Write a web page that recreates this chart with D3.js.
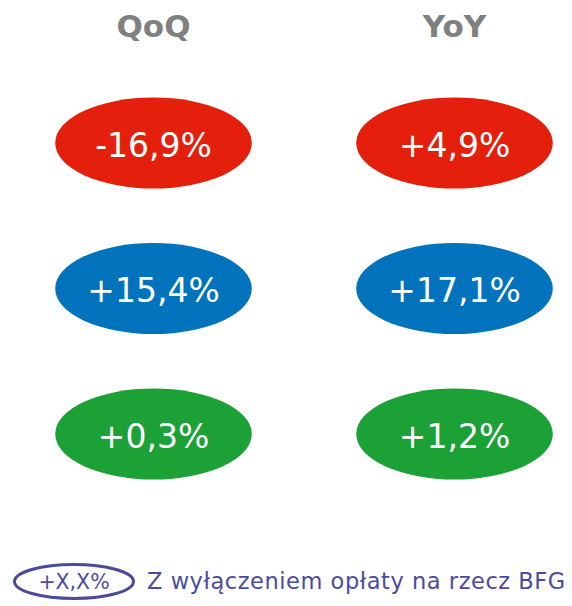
<!DOCTYPE html>
<html>
<head>
<meta charset="utf-8">
<script src="https://cdn.jsdelivr.net/npm/d3@7"></script>
<style>
  html, body { margin: 0; padding: 0; background: #fff; }
  svg { display: block; }
  text { font-family: "DejaVu Sans", Verdana, sans-serif; }
</style>
</head>
<body>
<svg id="chart" width="572" height="606"></svg>
<script>
// ---- data ----
const periods = ["QoQ", "YoY"];
const rows = ["row1", "row2", "row3"];
const qoqValues = [-16.9, 15.4, 0.3];
const yoyValues = [4.9, 17.1, 1.2];
const rowColors = ["#e41f0c", "#0073bc", "#1ba135"];
const legendSample = "+X,X%";
const legendLabel = "Z wyłączeniem opłaty na rzecz BFG";

const svg = d3.select("#chart");

const x = d3.scalePoint().domain(periods).range([153.5, 454.5]);
const y = d3.scalePoint().domain(rows).range([143, 434]);
const color = d3.scaleOrdinal().domain(rows).range(rowColors);

const fmt = v => (v >= 0 ? "+" : "-") + d3.format(".1f")(Math.abs(v)).replace(".", ",") + "%";

const cells = [];
periods.forEach((p, pi) => {
  const vals = pi === 0 ? qoqValues : yoyValues;
  rows.forEach((r, ri) => cells.push({ period: p, row: r, value: vals[ri] }));
});

// headers
svg.selectAll("text.header")
  .data(periods)
  .join("text")
  .attr("class", "header")
  .attr("x", d => x(d))
  .attr("y", 37)
  .attr("text-anchor", "middle")
  .attr("font-size", 31)
  .attr("font-weight", "bold")
  .attr("fill", "#7f8080")
  .text(d => d);

// ellipses
const g = svg.selectAll("g.cell")
  .data(cells)
  .join("g")
  .attr("class", "cell")
  .attr("transform", d => `translate(${x(d.period)},${y(d.row)})`);

g.append("ellipse")
  .attr("rx", 98.3)
  .attr("ry", 45.5)
  .attr("fill", d => color(d.row));

g.append("text")
  .attr("y", 13.5)
  .attr("text-anchor", "middle")
  .attr("font-size", 33)
  .attr("fill", "#ffffff")
  .text(d => fmt(d.value));

// legend
const legend = svg.append("g").attr("transform", "translate(74,581.5)");
legend.append("ellipse")
  .attr("rx", 59.5)
  .attr("ry", 17)
  .attr("fill", "none")
  .attr("stroke", "#4b4b9b")
  .attr("stroke-width", 3);
legend.append("text")
  .attr("y", 7.5)
  .attr("text-anchor", "middle")
  .attr("font-size", 20.5)
  .attr("fill", "#4b4b9b")
  .text(legendSample);

svg.append("text")
  .attr("x", 147)
  .attr("y", 588.5)
  .attr("font-size", 22.5)
  .attr("letter-spacing", 0.55)
  .attr("fill", "#4b4b9b")
  .text(legendLabel);
</script>
</body>
</html>
